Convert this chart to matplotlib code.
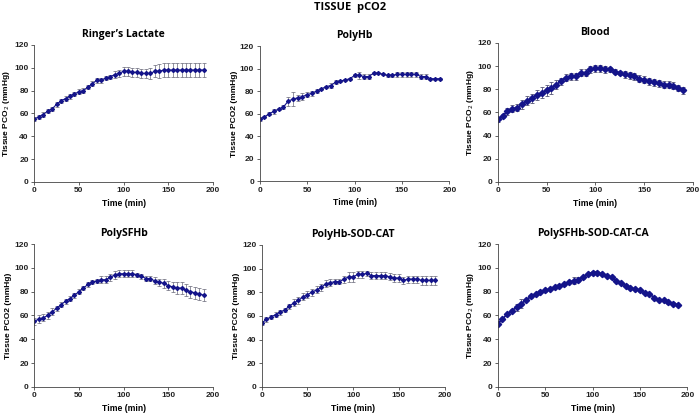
import matplotlib
matplotlib.use("Agg")
import matplotlib.pyplot as plt
import numpy as np

time = list(range(0, 195, 5))

ringer = [55,57,59,62,64,68,71,73,75,77,79,80,83,86,89,89,91,92,94,95,97,97,96,96,95,95,95,97,97,98,98,98,98,98,98,98,98,98,98]
ringer_err = [2,2,2,2,2,2,2,2,2,2,2,2,2,2,2,2,2,2,3,3,4,4,4,4,4,4,5,5,6,6,6,6,6,6,6,6,6,6,6]

polyhb = [55,57,60,62,64,66,71,73,74,75,77,78,80,82,84,85,88,89,90,91,94,94,93,93,96,96,95,94,94,95,95,95,95,95,93,93,91,91,91]
polyhb_err = [2,1,1,2,1,2,4,6,3,3,2,2,2,1,1,2,2,1,1,1,1,3,2,2,1,1,1,1,1,2,2,2,2,2,2,2,1,1,1]

blood = [54,57,61,63,64,67,70,72,75,77,79,81,84,87,90,91,91,94,94,97,98,98,97,97,95,94,93,92,91,89,88,87,86,85,84,84,83,81,79]
blood_err = [2,2,3,3,3,4,4,4,4,5,5,5,4,3,3,3,3,3,3,3,3,3,3,2,2,2,3,3,3,3,3,3,3,3,3,3,3,3,3]

polysfhb = [55,57,58,60,63,66,69,72,74,77,80,83,86,88,89,90,90,92,94,95,95,95,95,94,93,91,91,89,88,87,85,84,83,83,81,80,79,78,77]
polysfhb_err = [3,3,3,3,3,2,2,2,2,2,2,2,2,2,2,3,3,3,3,3,3,3,3,2,2,2,2,3,3,4,4,4,5,5,5,5,5,5,5]

sodcat = [54,57,59,61,63,65,68,71,73,76,78,80,82,84,87,88,89,89,91,93,93,95,95,96,94,94,94,94,93,92,92,90,91,91,91,90,90,90,90]
sodcat_err = [2,2,2,2,2,2,2,3,3,3,3,3,3,3,3,3,2,2,3,4,4,3,3,2,3,3,3,3,3,3,3,3,3,3,3,4,4,4,4]

sodcatca = [53,57,61,64,67,70,73,76,78,80,81,82,84,85,86,88,89,90,92,95,96,96,95,93,92,89,87,85,83,82,81,79,78,75,73,73,71,70,69]
sodcatca_err = [1,1,1,1,3,4,1,1,1,1,1,1,1,1,1,1,3,2,1,1,1,1,1,1,1,1,1,1,1,1,1,1,1,1,1,1,1,1,1]

titles = ["Ringer\u2019s Lactate", "PolyHb", "Blood", "PolySFHb", "PolyHb-SOD-CAT", "PolySFHb-SOD-CAT-CA"]
ylabels = ["Tissue PCO$_2$ (mmHg)", "Tissue PCO2 (mmHg)", "Tissue PCO$_2$ (mmHg)",
           "Tissue PCO2 (mmHg)", "Tissue PCO2 (mmHg)", "Tissue PCO$_2$ (mmHg)"]
series = [(ringer, ringer_err), (polyhb, polyhb_err), (blood, blood_err),
          (polysfhb, polysfhb_err), (sodcat, sodcat_err), (sodcatca, sodcatca_err)]

positions = [
    [0.049, 0.567, 0.255, 0.326],
    [0.371, 0.569, 0.271, 0.321],
    [0.711, 0.567, 0.279, 0.331],
    [0.049, 0.079, 0.255, 0.340],
    [0.374, 0.079, 0.261, 0.338],
    [0.711, 0.079, 0.271, 0.340],
]
big_marker = [False, False, True, False, False, True]

navy = "#14148a"
fig = plt.figure(figsize=(7, 4.2), dpi=100)
fig.text(0.5, 0.982, "TISSUE  pCO2", ha="center", va="center",
         fontsize=8, fontweight="bold", family="Open Sans")

for i, ax_pos in enumerate(positions):
    ax = fig.add_axes(ax_pos)
    y, e = series[i]
    if big_marker[i]:
        ax.errorbar(time, y, yerr=e, color=navy, marker="D", markersize=3.2,
                    linewidth=1.2, ecolor="#555577", elinewidth=0.6, capsize=1.5, capthick=0.6)
    else:
        ax.errorbar(time, y, yerr=e, color=navy, marker="D", markersize=2.0,
                    linewidth=0.8, ecolor="#666677", elinewidth=0.5, capsize=1.5, capthick=0.5)
    ax.set_xlim(0, 200)
    ax.set_ylim(0, 120)
    ax.set_xticks([0, 50, 100, 150, 200])
    ax.set_yticks([0, 20, 40, 60, 80, 100, 120])
    for s in ["top", "right"]:
        ax.spines[s].set_visible(False)
    for s in ["left", "bottom"]:
        ax.spines[s].set_linewidth(0.6)
        ax.spines[s].set_color("#444444")
    ax.tick_params(axis="both", labelsize=6, length=2, width=0.5, pad=2, colors="#222222")
    for lab in ax.get_xticklabels() + ax.get_yticklabels():
        lab.set_fontweight("bold")
        lab.set_family("Liberation Sans")
    ax.set_title(titles[i], fontsize=7.5, fontweight="bold", family="Open Sans", pad=6)
    ax.set_xlabel("Time (min)", fontsize=6.2, fontweight="bold", family="Liberation Sans", labelpad=3)
    ax.set_ylabel(ylabels[i], fontsize=6.0, fontweight="bold", family="Liberation Sans", labelpad=1.5)

fig.savefig("out.png", dpi=100)
